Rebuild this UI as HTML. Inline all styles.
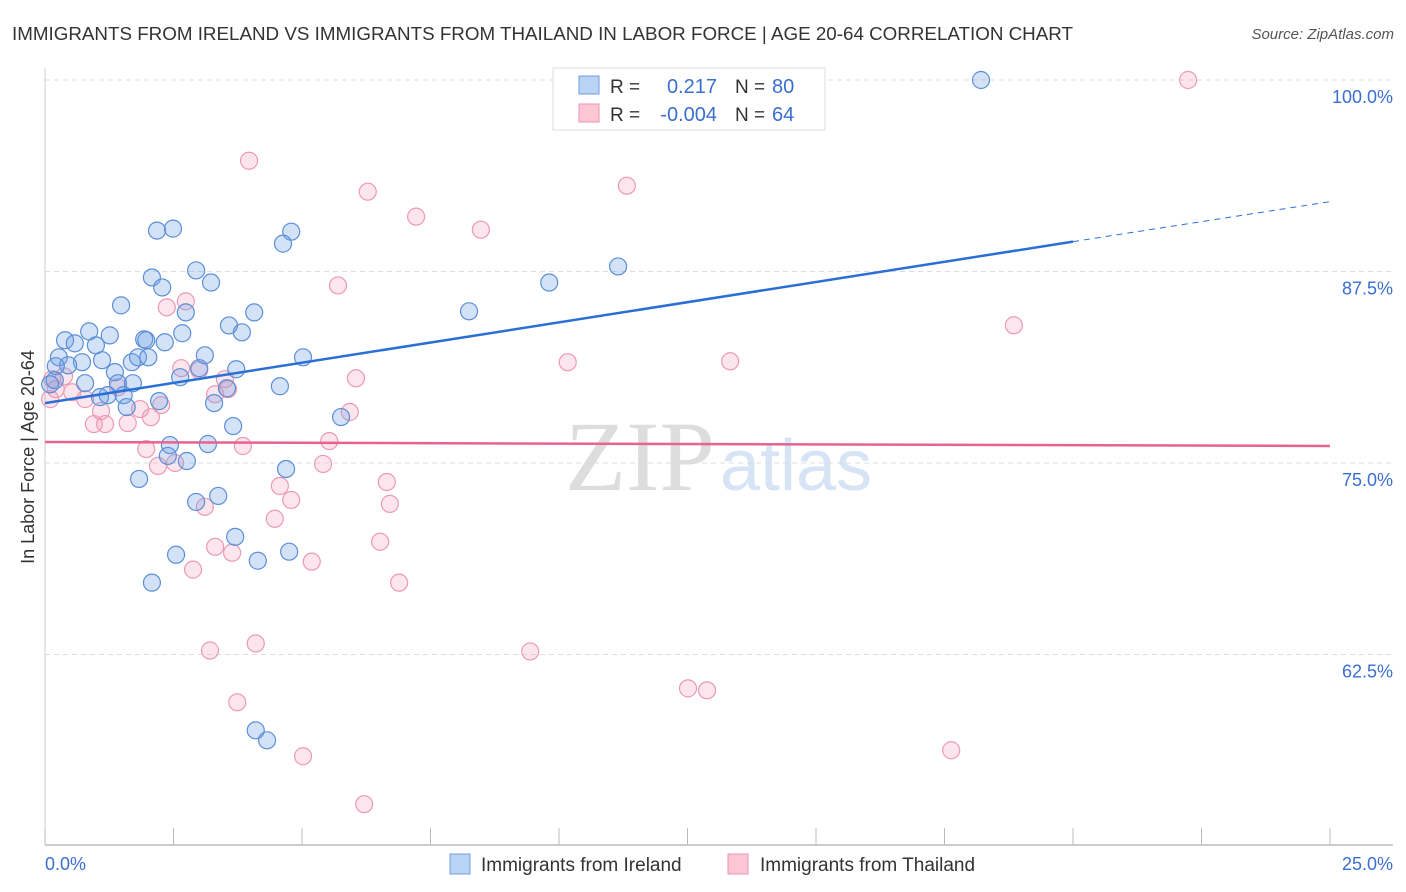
<!DOCTYPE html>
<html><head><meta charset="utf-8"><style>
body{margin:0;background:#fff;font-family:"Liberation Sans",sans-serif;}
svg{display:block}
</style></head><body>
<svg id="chart" width="1406" height="892">
<text x="12" y="40" font-size="18.8" fill="#333">IMMIGRANTS FROM IRELAND VS IMMIGRANTS FROM THAILAND IN LABOR FORCE | AGE 20-64 CORRELATION CHART</text>
<text x="1394" y="39" font-size="15" fill="#555" font-style="italic" text-anchor="end">Source: ZipAtlas.com</text>
<text x="715" y="490" font-size="100" fill="#ddd" font-family="Liberation Serif,serif" text-anchor="end">ZIP</text>
<text x="720" y="490" font-size="72" fill="#d6e4f5">atlas</text>
<g id="grid"></g><g id="axes"></g><g id="pts"></g><g id="trend"></g>
<text transform="translate(34,457) rotate(-90)" font-size="18" fill="#333" text-anchor="middle">In Labor Force | Age 20-64</text>
<text x="45" y="870" font-size="18" fill="#3a6fd0">0.0%</text>
<text x="1393" y="870" font-size="18" fill="#3a6fd0" text-anchor="end">25.0%</text>
<g>
<rect x="450" y="854" width="20" height="20" fill="#b9d3f5" stroke="#6f9ee0"/>
<text x="481" y="871" font-size="19" fill="#333">Immigrants from Ireland</text>
<rect x="728" y="854" width="20" height="20" fill="#fcc6d6" stroke="#eb95b0"/>
<text x="760" y="871" font-size="19" fill="#333">Immigrants from Thailand</text>
</g>
<g>
<rect x="553" y="68" width="272" height="62" fill="#fff" stroke="#ddd"/>
<rect x="579" y="76" width="20" height="18" fill="#b9d3f5" stroke="#6f9ee0"/>
<rect x="579" y="104" width="20" height="18" fill="#fcc6d6" stroke="#eb95b0"/>
<text x="610" y="93" font-size="19" fill="#333">R = </text><text x="717" y="93" font-size="20" fill="#3a6fd0" text-anchor="end">0.217</text>
<text x="735" y="93" font-size="19" fill="#333">N = </text><text x="772" y="93" font-size="20" fill="#3a6fd0">80</text>
<text x="610" y="121" font-size="19" fill="#333">R = </text><text x="717" y="121" font-size="20" fill="#3a6fd0" text-anchor="end">-0.004</text>
<text x="735" y="121" font-size="19" fill="#333">N = </text><text x="772" y="121" font-size="20" fill="#3a6fd0">64</text>
</g>
</svg>
<script>
const yTicks=[100,87.5,75,62.5];
const yTickLabels=["100.0%","87.5%","75.0%","62.5%"];
const xTicks=[0,2.5,5,7.5,10,12.5,15,17.5,20,22.5,25];
const irelandX=[18.21,11.15,9.81,8.25,4.79,4.63,2.18,2.49,2.94,2.08,2.28,3.23,1.48,4.07,2.74,3.58,3.83,2.67,0.86,1.26,0.39,0.58,0.99,1.93,1.97,2.33,3.11,5.02,0.27,1.11,0.72,0.45,0.21,1.69,1.81,2.01,3.72,3.00,1.36,2.63,1.71,0.78,0.19,0.10,1.42,4.57,3.54,1.07,1.22,1.53,2.22,3.29,1.59,3.66,5.76,2.43,3.17,2.39,2.76,4.69,1.83,3.37,2.94,3.70,2.55,4.75,4.14,2.08,4.10,4.32];
const irelandY=[100,87.83,86.78,84.90,90.10,89.32,90.17,90.30,87.57,87.11,86.46,86.78,85.29,84.83,84.83,83.98,83.53,83.47,83.59,83.33,83.01,82.81,82.68,83.07,83.01,82.88,82.03,81.90,81.90,81.71,81.58,81.38,81.32,81.58,81.90,81.90,81.12,81.19,80.93,80.60,80.21,80.21,80.40,80.14,80.21,80.01,79.88,79.30,79.43,79.43,79.04,78.91,78.65,77.41,78.00,76.17,76.24,75.46,75.13,74.61,73.96,72.85,72.46,70.18,69.01,69.21,68.62,67.19,57.55,56.90];
const thailandX=[22.24,11.32,3.97,6.28,7.22,8.48,5.70,18.85,13.33,10.17,2.37,2.74,2.65,3.00,6.05,3.50,3.56,0.37,0.14,0.21,0.10,0.53,0.78,1.42,3.31,1.09,1.85,2.26,5.93,0.95,1.17,1.61,2.06,1.97,3.85,5.53,2.20,2.53,5.41,6.65,4.57,4.79,6.71,3.11,4.47,6.52,3.31,3.64,5.19,2.88,6.89,4.10,3.21,9.44,12.51,12.88,3.74,17.63,5.02,6.21];
const thailandY=[100,93.10,94.73,92.71,91.08,90.23,86.59,83.99,81.64,81.58,85.16,85.55,81.19,81.06,80.53,80.47,79.82,80.66,80.47,79.82,79.17,79.62,79.17,79.95,79.49,78.39,78.52,78.78,78.33,77.54,77.54,77.61,77.99,75.91,76.11,76.43,74.81,75.00,74.94,73.76,73.50,72.59,72.33,72.14,71.36,69.86,69.53,69.14,68.56,68.04,67.19,63.22,62.76,62.70,60.29,60.16,59.38,56.25,55.86,52.73];
const irelandTrendX=[0,20,25];
const irelandTrendY=[78.91,89.45,92.06];
const thailandTrendX=[0,25];
const thailandTrendY=[76.37,76.11];
const NS="http://www.w3.org/2000/svg";
function sx(v){return 45+v/25*1285;}
function sy(v){return 80+(100-v)/12.5*191.5;}
function mk(tag,attrs,parent){const e=document.createElementNS(NS,tag);for(const k in attrs)e.setAttribute(k,attrs[k]);parent.appendChild(e);return e;}
const grid=document.getElementById('grid'),axes=document.getElementById('axes'),pts=document.getElementById('pts'),tr=document.getElementById('trend');
yTicks.forEach((t,i)=>{
 const l=mk('line',{x1:45,x2:1393,y1:sy(t),y2:sy(t),stroke:'#ddd','stroke-dasharray':'5,4'},grid);
 
 
 const tx=mk('text',{x:1393,y:sy(t)+23,'font-size':18,fill:'#3a6fd0','text-anchor':'end'},grid);
 tx.textContent=yTickLabels[i];
 
 
});
const xa=mk('line',{x1:45,x2:1393,y1:845,y2:845,stroke:'#bbb','stroke-width':1.5},axes);


const ya=mk('line',{x1:45,x2:45,y1:68,y2:845,stroke:'#ccc'},axes);


xTicks.forEach(t=>{
 const l=mk('line',{x1:sx(t),x2:sx(t),y1:828,y2:845,stroke:'#bbb'},axes);
 
 
});
function drawPts(X,Y,fill,stroke,name){
 X.forEach((x,i)=>{
  const c=mk('circle',{cx:sx(x),cy:sy(Y[i]),r:8.5,fill:fill,stroke:stroke,'stroke-width':1.2},pts);
  
  
 });
}
drawPts(thailandX,thailandY,'rgba(244,150,180,0.25)','#ec9ab3','thailand-point');
drawPts(irelandX,irelandY,'rgba(110,160,230,0.3)','#5b8fd8','ireland-point');
const b1=mk('line',{x1:sx(irelandTrendX[0]),y1:sy(irelandTrendY[0]),x2:sx(irelandTrendX[1]),y2:sy(irelandTrendY[1]),stroke:'#2a6fd6','stroke-width':2.5},tr);


const b2=mk('line',{x1:sx(irelandTrendX[1]),y1:sy(irelandTrendY[1]),x2:sx(irelandTrendX[2]),y2:sy(irelandTrendY[2]),stroke:'#2a6fd6','stroke-width':1,'stroke-dasharray':'6,5'},tr);


const p1=mk('line',{x1:sx(thailandTrendX[0]),y1:sy(thailandTrendY[0]),x2:sx(thailandTrendX[1]),y2:sy(thailandTrendY[1]),stroke:'#e8638e','stroke-width':2.5},tr);


</script>
</body></html>
